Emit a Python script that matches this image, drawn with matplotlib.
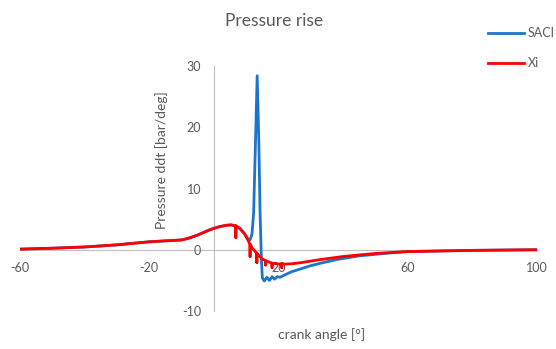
import matplotlib
matplotlib.use("Agg")
import matplotlib.pyplot as plt

plt.rcParams["font.family"] = ["Lato", "DejaVu Sans"]
plt.rcParams["axes.unicode_minus"] = False

# Xi model: pressure derivative vs crank angle (short vertical strokes are solver artefacts)
crank_xi = [-60, -50, -40, -30, -20, -15, -10, -8, -5, -2, 0, 2, 4, 5.5,
            6.8, 6.8, 6.8, 8, 9.5, 10.5, 11.2, 11.2, 11.2, 12, 12.5,
            13.3, 13.3, 13.3, 14, 15, 16, 16, 16, 17, 18, 18, 18, 19.5,
            21, 21, 21, 24, 27, 33, 40, 50, 60, 70, 80, 90, 100]
ddt_xi = [0.1, 0.25, 0.45, 0.8, 1.3, 1.45, 1.6, 1.85, 2.4, 3.1, 3.5, 3.8, 4.0, 4.05,
          3.9, 2.0, 3.9, 3.5, 2.6, 1.6, 0.9, -1.1, 0.9, 0.2, -0.1,
          -0.6, -2.1, -0.6, -1.0, -1.5, -1.8, -2.5, -1.8, -2.0, -2.2, -2.9, -2.2, -2.3,
          -2.35, -2.9, -2.35, -2.3, -2.1, -1.6, -1.1, -0.6, -0.3, -0.2, -0.1, -0.05, 0.0]

# SACI model
crank_saci = [-60, -50, -40, -30, -20, -15, -10, -8, -5, -2, 0, 2, 4, 5.5, 8, 9.5,
              10.5, 11.2, 11.8, 12.3, 12.8, 13.4, 13.9, 14.3, 14.7, 15.0, 15.6, 16.4,
              17.2, 18.0, 18.8, 19.6, 20.5, 22, 24, 27, 30, 33, 38, 45, 55, 60, 70,
              80, 90, 100]
ddt_saci = [0.1, 0.25, 0.45, 0.8, 1.3, 1.45, 1.6, 1.85, 2.4, 3.1, 3.5, 3.8, 4.0, 4.05, 3.5, 2.6,
            1.8, 1.6, 2.6, 6.0, 16.0, 28.4, 18.0, 6.0, -1.5, -4.6, -5.1, -4.5,
            -5.0, -4.4, -4.8, -4.4, -4.5, -4.1, -3.6, -3.1, -2.6, -2.2, -1.6, -1.0, -0.5, -0.3, -0.2,
            -0.1, -0.05, 0.0]

x_ticks = [-60, -20, 20, 60, 100]
y_ticks = [-10, 0, 10, 20, 30]

W, H = 556, 349
text_gray = "#595959"
axis_gray = "#BFBFBF"

fig = plt.figure(figsize=(W / 100, H / 100), dpi=100)
ax = fig.add_axes([20 / W, 1 - 311 / H, 517 / W, 245 / H])

ax.plot(crank_saci, ddt_saci, color="#1C75CA", lw=2.0, label="SACI", zorder=3)
ax.plot(crank_xi, ddt_xi, color="#FF0000", lw=2.0, label="Xi", zorder=4)

ax.set_xlim(-60, 100)
ax.set_ylim(-10, 30)
ax.set_xticks(x_ticks)
ax.set_yticks(y_ticks)

for side in ("top", "right"):
    ax.spines[side].set_visible(False)
ax.spines["left"].set_position(("data", 0))
ax.spines["bottom"].set_position(("data", 0))
for side in ("left", "bottom"):
    ax.spines[side].set_color(axis_gray)
    ax.spines[side].set_linewidth(0.8)
    ax.spines[side].set_zorder(1)

ax.tick_params(axis="both", length=0, labelsize=9, labelcolor=text_gray)
ax.tick_params(axis="x", pad=9)
ax.tick_params(axis="y", pad=9)

fig.text(274 / W, 1 - 21 / H, "Pressure rise", ha="center", va="center",
         fontsize=12.5, color=text_gray)
fig.text(162 / W, 1 - 160 / H, "Pressure ddt [bar/deg]", rotation=90,
         ha="center", va="center", fontsize=10, color=text_gray)
fig.text(322 / W, 1 - 335 / H, "crank angle [°]", ha="center", va="center",
         fontsize=10, color=text_gray)

leg = ax.legend(loc="upper left", bbox_to_anchor=(488 / W, 1 - 27 / H),
                bbox_transform=fig.transFigure, frameon=False, fontsize=9,
                handlelength=2.9, handletextpad=0.25, labelspacing=1.45,
                borderpad=0, borderaxespad=0)
for t in leg.get_texts():
    t.set_color(text_gray)

fig.savefig("out.png", dpi=100)
